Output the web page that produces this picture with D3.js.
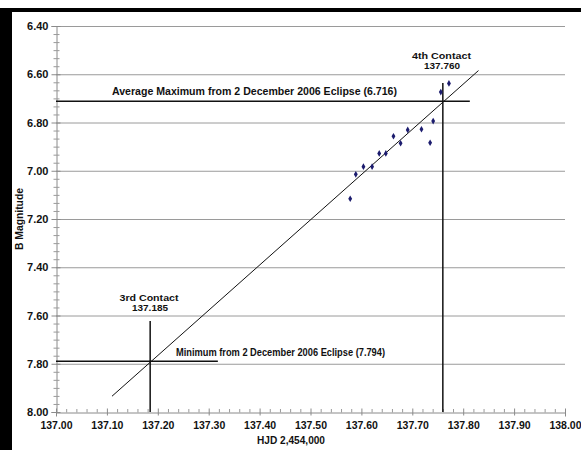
<!DOCTYPE html>
<html>
<head>
<meta charset="utf-8">
<script src="https://cdn.jsdelivr.net/npm/d3@7"></script>
<style>
  html, body { margin: 0; padding: 0; background: #fff; }
  svg { display: block; }
  text { font-family: "Liberation Sans", Arial, sans-serif; font-weight: bold; fill: #111; }
</style>
</head>
<body>
<script>
// Observed B-band magnitudes during egress (HJD - 2,454,000)
const hjd = [137.578, 137.589, 137.604, 137.621, 137.635, 137.648, 137.663,
             137.677, 137.691, 137.718, 137.735, 137.741, 137.756, 137.772];
const bMag = [7.116, 7.015, 6.983, 6.983, 6.928, 6.928, 6.857,
              6.886, 6.831, 6.828, 6.884, 6.794, 6.674, 6.638];

// Reference levels and contact times
const avgMaximum = 6.716;
const minimum = 7.794;
const thirdContact = 137.185;
const fourthContact = 137.760;

// Linear egress fit, drawn between these two times
const fitX = [137.11, 137.83];

// Axis ticks
const xTicks = [137.0, 137.1, 137.2, 137.3, 137.4, 137.5, 137.6, 137.7, 137.8, 137.9, 138.0];
const yTicks = [6.4, 6.6, 6.8, 7.0, 7.2, 7.4, 7.6, 7.8, 8.0];

const W = 581, H = 450;
const svg = d3.select("body").append("svg").attr("width", W).attr("height", H);

// frame edges
svg.append("rect").attr("x", 0).attr("y", 8).attr("width", W).attr("height", 4).attr("fill", "#000");
svg.append("rect").attr("x", 0).attr("y", 8).attr("width", 12).attr("height", H - 8).attr("fill", "#000");

const plotL = 56, plotR = 565, plotT = 26, plotB = 412;
const x = d3.scaleLinear().domain([137.0, 138.0]).range([plotL, plotR]);
const y = d3.scaleLinear().domain([6.4, 8.0]).range([plotT, plotB]);

// horizontal gridlines
svg.append("g").selectAll("line").data(yTicks.slice(0, -1)).join("line")
  .attr("x1", plotL).attr("x2", plotR)
  .attr("y1", d => y(d) + 0.5).attr("y2", d => y(d) + 0.5)
  .attr("stroke", "#9a9a9a").attr("stroke-width", 1);

// y axis
const yAxis = d3.axisLeft(y).tickValues(yTicks).tickFormat(d3.format(".2f")).tickSize(5).tickPadding(3);
const gy = svg.append("g").attr("transform", `translate(${plotL + 0.5},0)`).call(yAxis);
gy.select(".domain").attr("stroke", "#8a8a8a");
gy.selectAll(".tick line").attr("stroke", "#8a8a8a").attr("x2", -5).attr("x1", 4);
gy.selectAll(".tick text").style("font-size", "11px").attr("fill", "#222");
// y minor ticks
const yMinor = d3.range(6.4, 8.0001, 0.2 / 6).filter(v => Math.abs(v * 5 - Math.round(v * 5)) > 1e-6);
svg.append("g").selectAll("line").data(yMinor).join("line")
  .attr("x1", plotL - 2.5).attr("x2", plotL + 3.5)
  .attr("y1", d => y(d) + 0.5).attr("y2", d => y(d) + 0.5)
  .attr("stroke", "#9a9a9a");

// x axis
const xAxis = d3.axisBottom(x).tickValues(xTicks).tickFormat(d3.format(".2f")).tickSize(4).tickPadding(5);
const gx = svg.append("g").attr("transform", `translate(0,${plotB + 0.5})`).call(xAxis);
gx.select(".domain").attr("stroke", "#8a8a8a");
gx.selectAll(".tick line").attr("stroke", "#8a8a8a").attr("y1", -4).attr("y2", 3);
gx.selectAll(".tick text").style("font-size", "10.5px").attr("fill", "#222");
// x minor ticks
const xMinor = d3.range(137.0, 138.0001, 0.02).filter(v => Math.abs(v * 10 - Math.round(v * 10)) > 1e-6);
svg.append("g").selectAll("line").data(xMinor).join("line")
  .attr("x1", d => x(d) + 0.5).attr("x2", d => x(d) + 0.5)
  .attr("y1", plotB - 3).attr("y2", plotB + 0.5)
  .attr("stroke", "#9a9a9a");

// axis titles
svg.append("text").attr("x", 291).attr("y", 444).attr("text-anchor", "middle")
  .style("font-size", "10px").attr("textLength", 68).attr("lengthAdjust", "spacingAndGlyphs")
  .text("HJD 2,454,000");
svg.append("text").attr("transform", "translate(23,219) rotate(-90)").attr("text-anchor", "middle")
  .style("font-size", "10px").attr("textLength", 62).attr("lengthAdjust", "spacingAndGlyphs")
  .text("B Magnitude");

// linear fit through the egress
const fitLine = d3.line().x(d => x(d)).y(d => y(minimum + (d - thirdContact) * (avgMaximum - minimum) / (fourthContact - thirdContact)));
svg.append("path").attr("d", fitLine(fitX)).attr("fill", "none").attr("stroke", "#111").attr("stroke-width", 1);

// reference levels
svg.append("line").attr("x1", x(137.0)).attr("x2", x(137.813))
  .attr("y1", y(avgMaximum) - 1).attr("y2", y(avgMaximum) - 1)
  .attr("stroke", "#111").attr("stroke-width", 1.5);
svg.append("line").attr("x1", x(137.0)).attr("x2", x(137.318))
  .attr("y1", y(minimum) - 1).attr("y2", y(minimum) - 1)
  .attr("stroke", "#111").attr("stroke-width", 1.5);

// contact times
svg.append("line").attr("x1", x(fourthContact)).attr("x2", x(fourthContact))
  .attr("y1", y(6.636)).attr("y2", plotB)
  .attr("stroke", "#111").attr("stroke-width", 1.5);
svg.append("line").attr("x1", x(thirdContact)).attr("x2", x(thirdContact))
  .attr("y1", y(7.623)).attr("y2", plotB)
  .attr("stroke", "#111").attr("stroke-width", 1.5);

// observations
svg.append("g").selectAll("path").data(hjd).join("path")
  .attr("transform", (d, i) => `translate(${x(d)},${y(bMag[i])})`)
  .attr("d", d3.symbol(d3.symbolDiamond, 13))
  .attr("fill", "#1c1c6e");

// annotations
const note = (tx, ty, str, anchor, len, size) => {
  const t = svg.append("text").attr("x", tx).attr("y", ty).attr("text-anchor", anchor)
    .style("font-size", size + "px").text(str);
  if (len) t.attr("textLength", len).attr("lengthAdjust", "spacingAndGlyphs");
  return t;
};
note(441.5, 58.5, "4th Contact", "middle", 59, 9);
note(442, 69, d3.format(".3f")(fourthContact), "middle", 36, 9);
note(112, 95, `Average Maximum from 2 December 2006 Eclipse (${d3.format(".3f")(avgMaximum)})`, "start", 285, 10.5);
note(149, 300.5, "3rd Contact", "middle", 59, 9);
note(150, 311, d3.format(".3f")(thirdContact), "middle", 36, 9);
note(176, 356, `Minimum from 2 December 2006 Eclipse (${d3.format(".3f")(minimum)})`, "start", 209, 10.5);
</script>
</body>
</html>
